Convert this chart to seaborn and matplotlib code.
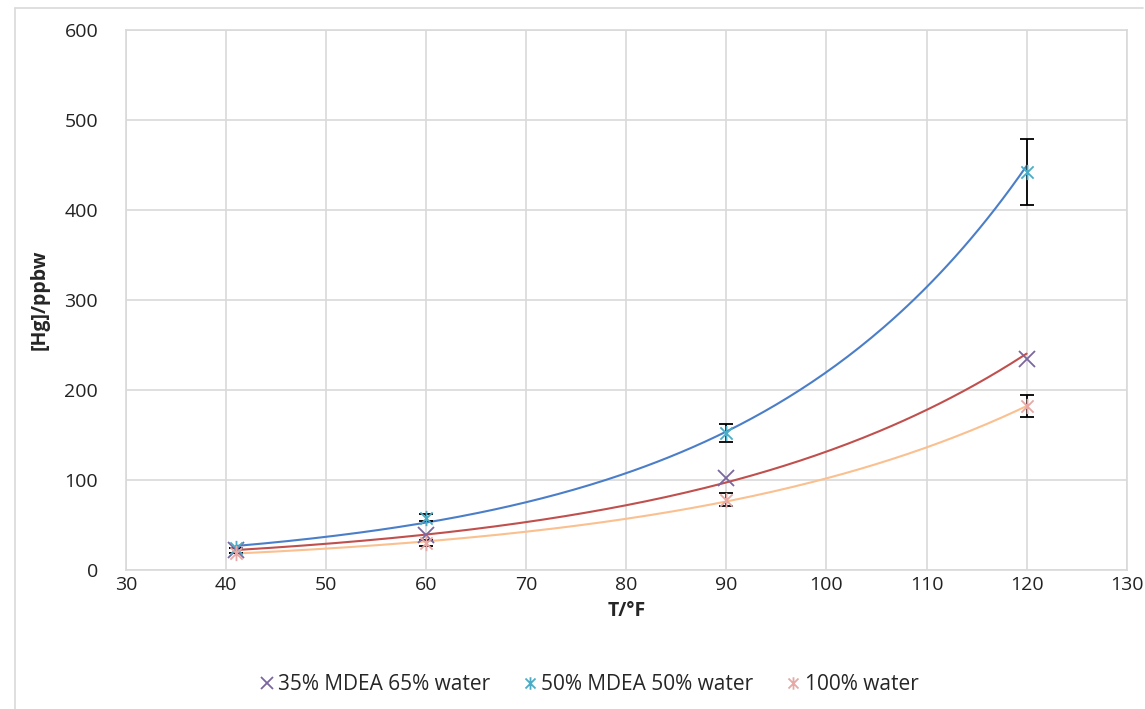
import numpy as np
import pandas as pd
import matplotlib
matplotlib.use('Agg')
import matplotlib.pyplot as plt
from matplotlib.path import Path
from matplotlib.lines import Line2D
import seaborn as sns

# data
temps = [41, 60, 90, 120]
hg_35 = [22, 39, 102, 234]
hg_50 = [25, 58, 152, 442]
hg_100 = [19, 30, 78, 182]
err_50 = [0, 4, 10, 37]
err_100 = [0, 3, 7, 12]
labels = ['35% MDEA 65% water', '50% MDEA 50% water', '100% water']

marker_cols = ['#7b67a0', '#4bacc6', '#e6a9a6']
fit_cols = ['#c0504d', '#4a7ec8', '#fac08f']

sns.set_style('whitegrid')
plt.rcParams['font.family'] = ['Open Sans', 'DejaVu Sans']

# Excel style star marker: x with a vertical bar
star = Path([(-1, -1), (1, 1), (-1, 1), (1, -1), (0, -1.25), (0, 1.25)],
            [Path.MOVETO, Path.LINETO, Path.MOVETO, Path.LINETO, Path.MOVETO, Path.LINETO])
markers = ['x', star, star]

fig = plt.figure(figsize=(11.45, 7.09), dpi=100)
ax = fig.add_axes([0.110, 0.196, 0.874, 0.762])

series = [hg_35, hg_50, hg_100]
errs = [None, err_50, err_100]

# exponential trendlines (fit of ln y on x, like Excel)
xs = np.linspace(41, 120, 200)
for i, ys in enumerate(series):
    b, a = np.polyfit(temps, np.log(ys), 1)
    fit = pd.DataFrame({'T': xs, 'Hg': np.exp(a + b * xs)})
    sns.lineplot(data=fit, x='T', y='Hg', ax=ax, color=fit_cols[i], lw=1.5, zorder=2)

for i, ys in enumerate(series):
    if errs[i] is not None:
        ax.errorbar(temps, ys, yerr=errs[i], fmt='none', ecolor='black',
                    elinewidth=1.3, capsize=5, capthick=1.3, zorder=3)
    ax.plot(temps, ys, ls='none', marker=markers[i], markersize=11,
            color=marker_cols[i], markerfacecolor='none', markeredgecolor=marker_cols[i],
            markeredgewidth=1.3, zorder=4)

ax.set_xlim(30, 130)
ax.set_ylim(0, 600)
ax.set_xticks(range(30, 131, 10))
ax.set_yticks(range(0, 601, 100))
ax.grid(True, color='#d9d9d9', lw=1.2)
for s in ax.spines.values():
    s.set_color('#d9d9d9')
    s.set_linewidth(1.2)
ax.tick_params(labelsize=14, colors='#222222', length=0)
ax.tick_params(axis='y', pad=20)
ax.tick_params(axis='x', pad=4)
ax.set_xlabel('T/°F', fontsize=14, fontweight='bold', labelpad=5)
ax.set_ylabel('[Hg]/ppbw', fontsize=14, fontweight='bold', labelpad=11)

handles = [Line2D([], [], ls='none', marker=markers[i], color=marker_cols[i],
                  markerfacecolor='none', markersize=9, markeredgewidth=1.3)
           for i in range(3)]
fig.legend(handles, labels, loc='center', bbox_to_anchor=(0.513, 0.034), ncol=3,
           frameon=False, fontsize=15, handletextpad=0.05, columnspacing=1.4,
           handlelength=1.0)

# outer chart border
fig.add_artist(Line2D([0.013, 0.013], [0, 0.989], color='#d9d9d9', lw=1.2))
fig.add_artist(Line2D([0.013, 0.998], [0.989, 0.989], color='#d9d9d9', lw=1.2))

fig.savefig('out.png', dpi=100)
